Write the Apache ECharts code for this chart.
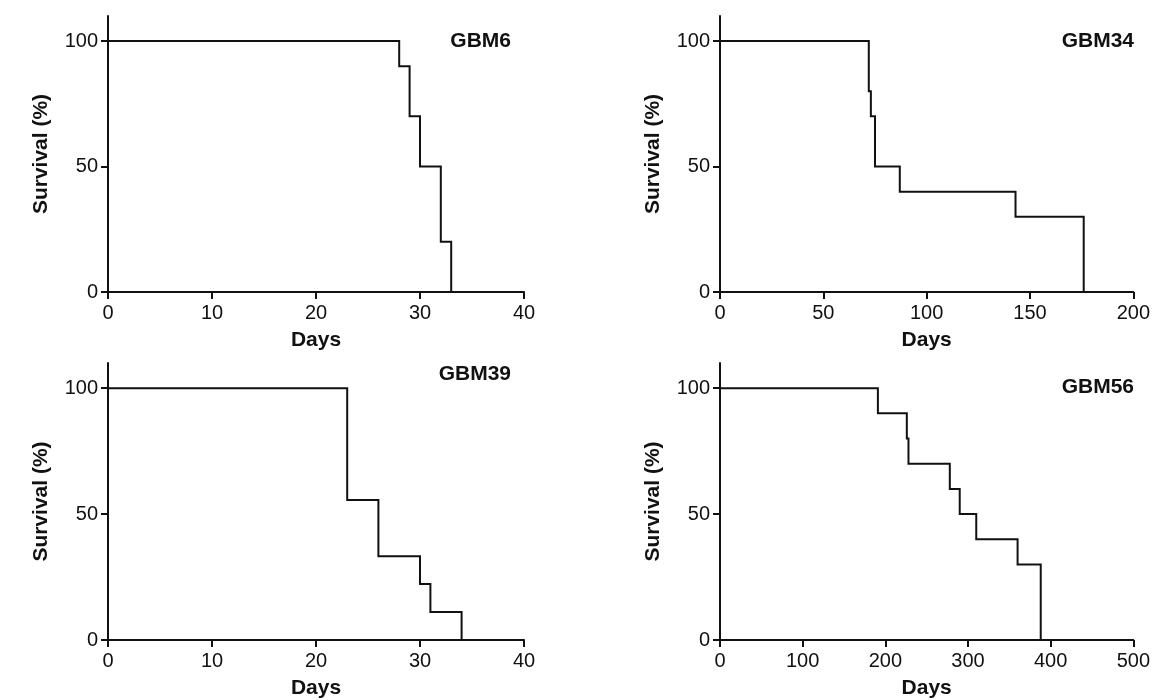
<!DOCTYPE html>
<html>
<head>
<meta charset="utf-8">
<script src="https://cdn.jsdelivr.net/npm/echarts@6/dist/echarts.min.js"></script>
<style>
  html, body { margin: 0; padding: 0; background: #fff; }
  #main { width: 1153px; height: 700px; }
</style>
</head>
<body>
<div id="main"></div>
<script>
// Kaplan-Meier steps: day of each event and survival (%) after it
var gbm6Days = [0, 28, 29, 30, 32, 33];
var gbm6Surv = [100, 90, 70, 50, 20, 0];

var gbm34Days = [0, 72, 73, 75, 87, 143, 176];
var gbm34Surv = [100, 80, 70, 50, 40, 30, 0];

var gbm39Days = [0, 23, 26, 30, 31, 34];
var gbm39Surv = [100, 55.6, 33.3, 22.2, 11.1, 0];

var gbm56Days = [0, 191, 226, 228, 278, 290, 310, 360, 388];
var gbm56Surv = [100, 90, 80, 70, 60, 50, 40, 30, 0];

var panelNames = ['GBM6', 'GBM34', 'GBM39', 'GBM56'];
var xMax = [40, 200, 40, 500];
var xStep = [10, 50, 10, 100];
var yTicks = [0, 50, 100];

var panels = [
    [gbm6Days, gbm6Surv],
    [gbm34Days, gbm34Surv],
    [gbm39Days, gbm39Surv],
    [gbm56Days, gbm56Surv]
];

var font = '"Liberation Sans", Arial, sans-serif';
var ink = '#111';

var grids = [
    { left: 108, top: 16, width: 416, height: 276 },
    { left: 720, top: 16, width: 416, height: 276 },
    { left: 108, top: 363, width: 416, height: 277 },
    { left: 720, top: 363, width: 416, height: 277 }
];
var titlePos = [
    { right: 642, top: 31 },
    { right: 19, top: 31 },
    { right: 642, top: 364 },
    { right: 19, top: 377 }
];

// step curve drawn as one polyline (the line series drops sub-2px steps)
function stepRenderer(days, surv) {
    return function (params, api) {
        if (params.dataIndex !== 0) return null;
        var pts = [api.coord([days[0], surv[0]])];
        for (var k = 1; k < days.length; k++) {
            pts.push(api.coord([days[k], surv[k - 1]]));
            pts.push(api.coord([days[k], surv[k]]));
        }
        return {
            type: 'polyline',
            shape: { points: pts },
            style: { stroke: ink, lineWidth: 2, fill: null, lineJoin: 'miter' }
        };
    };
}

var myChart = echarts.init(document.getElementById('main'));

var xAxes = [], yAxes = [], series = [], titles = [];
for (var i = 0; i < 4; i++) {
    xAxes.push({
        gridIndex: i,
        type: 'value',
        min: 0,
        max: xMax[i],
        interval: xStep[i],
        name: 'Days',
        nameLocation: 'middle',
        nameGap: 38,
        nameTextStyle: { fontFamily: font, fontWeight: 'bold', fontSize: 21, color: ink },
        axisLine: { lineStyle: { color: ink, width: 2 } },
        axisTick: { length: 7, lineStyle: { color: ink, width: 2 } },
        axisLabel: { fontFamily: font, fontSize: 20, color: ink, margin: 11 },
        splitLine: { show: false }
    });
    yAxes.push({
        gridIndex: i,
        type: 'value',
        min: 0,
        max: 110,
        name: 'Survival (%)',
        nameLocation: 'middle',
        nameGap: 56,
        nameTextStyle: { fontFamily: font, fontWeight: 'bold', fontSize: 21, color: ink },
        axisLine: { lineStyle: { color: ink, width: 2 } },
        axisTick: { length: 7, customValues: yTicks, lineStyle: { color: ink, width: 2 } },
        axisLabel: { fontFamily: font, fontSize: 20, color: ink, margin: 10, customValues: yTicks },
        splitLine: { show: false }
    });
    var pts = [];
    for (var k = 0; k < panels[i][0].length; k++) {
        pts.push([panels[i][0][k], panels[i][1][k]]);
    }
    series.push({
        name: panelNames[i],
        type: 'custom',
        xAxisIndex: i,
        yAxisIndex: i,
        data: pts,
        encode: { x: 0, y: 1 },
        renderItem: stepRenderer(panels[i][0], panels[i][1]),
        silent: true,
        animation: false
    });
    titles.push({
        text: panelNames[i],
        right: titlePos[i].right,
        top: titlePos[i].top,
        padding: 0,
        textStyle: { fontFamily: font, fontWeight: 'bold', fontSize: 21, color: ink }
    });
}

myChart.setOption({
    backgroundColor: '#fff',
    animation: false,
    title: titles,
    grid: grids,
    xAxis: xAxes,
    yAxis: yAxes,
    series: series
});
</script>
</body>
</html>
